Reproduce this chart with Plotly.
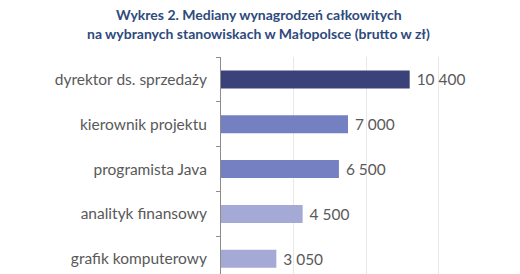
import plotly.graph_objects as go

categories = ["dyrektor ds. sprzedaży", "kierownik projektu", "programista Java",
              "analityk finansowy", "grafik komputerowy"]
values = [10400, 7000, 6500, 4500, 3050]
value_labels = ["10 400", "7 000", "6 500", "4 500", "3 050"]
colors = ["#3A4279", "#7480C1", "#7480C1", "#A4AAD5", "#A4AAD5"]
title_lines = ["Wykres 2. Mediany wynagrodzeń całkowitych",
               "na wybranych stanowiskach w Małopolsce (brutto w zł)"]

fig = go.Figure(go.Bar(
    y=categories, x=values, orientation="h",
    marker=dict(color=colors, line=dict(width=0)),
    text=[" " + t for t in value_labels], textposition="outside", cliponaxis=False,
    textfont=dict(family="Lato", size=15.5, color="#595959"),
    width=0.4,
))

title_font = dict(family="Lato", size=14, color="#2E4A7D", weight="bold")
for line, yy in zip(title_lines, [1.198, 1.110]):
    fig.add_annotation(text=line, xref="paper", yref="paper", x=0.148, y=yy,
                       xanchor="center", yanchor="middle", showarrow=False,
                       font=title_font)

fig.update_layout(
    width=520, height=274,
    margin=dict(l=221, r=45, t=57, b=0),
    paper_bgcolor="white", plot_bgcolor="white",
    showlegend=False,
    xaxis=dict(range=[0, 14000], dtick=4000, showgrid=True, gridcolor="#E8E8E8",
               gridwidth=1, showticklabels=False, zeroline=False, showline=False, ticks=""),
    yaxis=dict(categoryorder="array", categoryarray=categories,
               range=[4.34, -0.5], showline=True, linecolor="#8C8C8C", linewidth=1,
               ticks="outside", tickson="boundaries", ticklen=4, tickcolor="#8C8C8C",
               ticklabelstandoff=10,
               tickfont=dict(family="Lato", size=15.5, color="#595959"), showgrid=False),
)

fig.write_html("out.html")
